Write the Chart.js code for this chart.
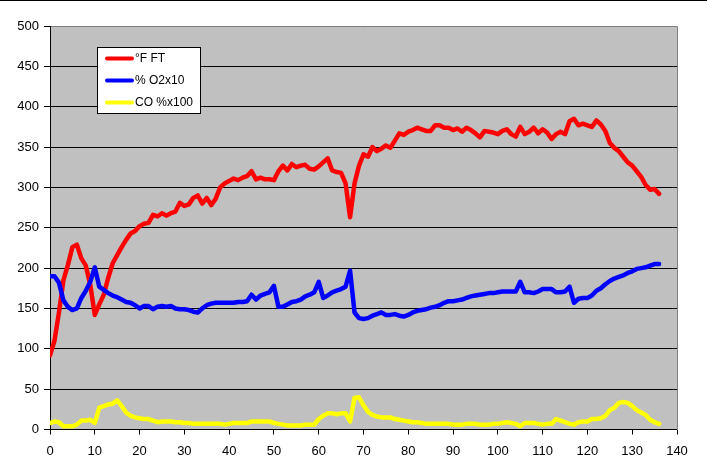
<!DOCTYPE html>
<html>
<head>
<meta charset="utf-8">
<script src="https://cdn.jsdelivr.net/npm/chart.js@4/dist/chart.umd.min.js"></script>
<style>
  html, body { margin: 0; padding: 0; background: #fff; }
  #wrap { position: relative; width: 707px; height: 475px; }
  canvas { display: block; }
</style>
</head>
<body>
<div id="wrap"><canvas id="c" width="707" height="475"></canvas></div>
<script>
// ---- data ----
const sampleX = [
  0,1,2,3,4,5,6,7,8,9,10,11,12,13,14,15,16,17,18,19,
  20,21,22,23,24,25,26,27,28,29,30,31,32,33,34,35,36,37,38,39,
  40,41,42,43,44,45,46,47,48,49,50,51,52,53,54,55,56,57,58,59,
  60,61,62,63,64,65,66,67,68,69,70,71,72,73,74,75,76,77,78,79,
  80,81,82,83,84,85,86,87,88,89,90,91,92,93,94,95,96,97,98,99,
  100,101,102,103,104,105,106,107,108,109,110,111,112,113,114,115,116,117,118,119,
  120,121,122,123,124,125,126,127,128,129,130,131,132,133,134,135,136
];

const seriesLabels = ['°F FT', '% O2x10', 'CO %x100'];

const tempFT = [
  92,110,145,185,204,226,229,212,203,179,
  142,155,167,188,206,216,226,235,243,246,
  252,255,256,266,264,268,265,268,270,281,
  277,279,287,290,280,287,278,286,300,305,
  308,311,309,312,314,320,310,312,310,310,
  309,320,327,321,329,325,327,328,323,322,
  326,331,336,321,319,318,305,263,305,327,
  341,338,350,345,348,352,349,358,367,365,
  369,371,374,372,370,370,377,377,374,374,
  371,373,369,374,371,367,362,370,369,368,
  366,370,372,366,363,375,366,369,374,367,
  372,368,360,366,369,366,382,385,377,379,
  377,375,383,378,370,355,349,345,338,331,
  327,320,313,303,297,298,292
];

const o2x10 = [
  190,190,182,160,152,148,150,163,172,183,
  201,177,173,169,166,164,161,158,157,154,
  150,153,153,149,152,153,152,153,150,149,
  149,148,146,145,150,154,156,157,157,157,
  157,157,158,158,159,167,161,166,168,170,
  178,152,152,155,158,159,161,165,167,170,
  183,163,166,170,172,174,177,197,145,138,
  137,138,141,143,145,142,142,143,141,140,
  142,145,147,148,149,151,152,154,157,159,
  159,160,161,163,165,166,167,168,169,169,
  170,171,171,171,171,183,170,170,169,171,
  174,174,174,170,170,171,177,157,162,163,
  163,166,172,175,180,184,187,189,191,194,
  196,199,200,201,203,205,205
];

const cox100 = [
  8,10,9,4,4,4,6,11,11,12,
  8,27,29,31,32,36,29,21,17,15,
  14,13,13,11,9,10,10,10,9,9,
  8,8,7,7,7,7,7,7,7,6,
  7,8,8,8,8,10,10,10,10,10,
  8,7,6,5,5,5,5,6,6,6,
  13,17,20,20,19,20,20,10,39,40,
  30,22,18,16,15,15,15,13,12,11,
  10,9,9,8,7,7,7,7,7,7,
  6,6,6,7,7,7,6,6,6,7,
  7,8,9,8,7,4,8,8,8,7,
  6,7,7,13,11,9,7,6,9,10,
  10,13,13,14,17,24,27,33,34,33,
  29,24,21,18,12,9,7
];

const seriesColors = ['#FF0000', '#0000FF', '#FFFF00'];

// ---- helpers ----
function pts(ys) { return sampleX.map((x, i) => ({ x: x, y: ys[i] })); }
const FONT = "'Liberation Sans', Arial, sans-serif";

const decorPlugin = {
  id: 'decor',
  beforeDraw(chart) {
    const ctx = chart.ctx, a = chart.chartArea;
    ctx.save();
    ctx.fillStyle = '#000';
    ctx.fillRect(0, 0, chart.width, 1);
    ctx.fillStyle = '#C0C0C0';
    ctx.fillRect(a.left, a.top, a.right - a.left, a.bottom - a.top);
    ctx.restore();
  },
  beforeDatasetsDraw(chart) {
    const ctx = chart.ctx, a = chart.chartArea;
    ctx.save();
    ctx.strokeStyle = '#808080';
    ctx.lineWidth = 1;
    ctx.beginPath();
    ctx.moveTo(Math.round(a.left) + 1, Math.round(a.top) + 0.5);
    ctx.lineTo(Math.round(a.right) + 0.5, Math.round(a.top) + 0.5);
    ctx.lineTo(Math.round(a.right) + 0.5, Math.round(a.bottom));
    ctx.stroke();
    ctx.restore();
  },
  afterDatasetsDraw(chart) {
    const ctx = chart.ctx;
    const bx = 97.5, by = 47.5, bw = 103, bh = 66;
    ctx.save();
    ctx.fillStyle = '#fff';
    ctx.fillRect(bx, by, bw, bh);
    ctx.strokeStyle = '#000';
    ctx.lineWidth = 1;
    ctx.strokeRect(bx, by, bw, bh);
    const rows = [58.5, 80.5, 102.5];
    ctx.font = '12px ' + FONT;
    ctx.textBaseline = 'middle';
    ctx.textAlign = 'left';
    rows.forEach((yy, i) => {
      ctx.strokeStyle = seriesColors[i];
      ctx.lineWidth = 4;
      ctx.lineCap = 'round';
      ctx.beginPath();
      ctx.moveTo(107, yy);
      ctx.lineTo(132, yy);
      ctx.stroke();
      ctx.fillStyle = '#000';
      ctx.fillText(seriesLabels[i], 135, yy + 0.5);
    });
    ctx.restore();
  }
};

const ds = [tempFT, o2x10, cox100].map((ys, i) => ({
  label: seriesLabels[i],
  data: pts(ys),
  borderColor: seriesColors[i],
  backgroundColor: seriesColors[i],
  borderWidth: 4.5,
  pointRadius: 0,
  tension: 0,
  fill: false,
  borderJoinStyle: 'round',
  borderCapStyle: 'round',
  order: 3 - i
}));

new Chart(document.getElementById('c').getContext('2d'), {
  type: 'line',
  data: { datasets: ds },
  options: {
    responsive: false,
    animation: false,
    devicePixelRatio: 1,
    layout: { padding: { left: 0, right: 30, top: 26, bottom: 0 } },
    plugins: { legend: { display: false }, tooltip: { enabled: false } },
    scales: {
      x: {
        type: 'linear', min: 0, max: 140,
        ticks: { stepSize: 10, color: '#000', font: { family: FONT, size: 13 }, padding: 9, maxRotation: 0, autoSkip: false },
        grid: { drawOnChartArea: false, drawTicks: true, tickLength: 5, color: '#000' },
        border: { color: '#000', width: 1 },
        afterFit(s) { s.height = 45.5; }
      },
      y: {
        min: 0, max: 500,
        ticks: { stepSize: 50, color: '#000', font: { family: FONT, size: 13 }, padding: 5 },
        grid: { color: '#000', tickLength: 6, lineWidth: 1 },
        border: { color: '#000', width: 1 },
        afterFit(s) { s.width = 50; }
      }
    }
  },
  plugins: [decorPlugin]
});
</script>
</body>
</html>
